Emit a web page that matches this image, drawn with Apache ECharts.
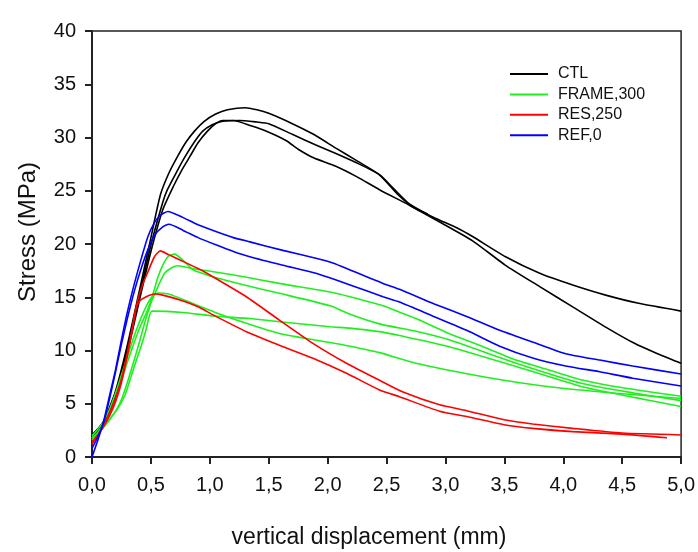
<!DOCTYPE html>
<html><head><meta charset="utf-8">
<script src="https://cdn.jsdelivr.net/npm/echarts@6/dist/echarts.min.js"></script>
<style>html,body{margin:0;padding:0;background:#fff}#c{width:698px;height:552px}</style>
</head><body><div id="c"></div>
<script>
// ---- data (x = vertical displacement in mm, y = stress in MPa) ----
const legendNames = ['CTL', 'FRAME,300', 'RES,250', 'REF,0'];

const ctl1 = [[0,2.0],[0.1,3.4],[0.2,6.2],[0.3,10.5],[0.4,15.5],[0.5,20.6],[0.58,24.6],[0.65,26.6],[0.73,28.3],[0.8,29.6],[0.87,30.6],[0.95,31.5],[1.05,32.2],[1.15,32.6],[1.3,32.8],[1.4,32.6],[1.5,32.27],[1.7,31.3],[1.88,30.3],[2.07,29.0],[2.25,27.8],[2.44,26.5],[2.6,24.6],[2.72,23.5],[2.92,22.4],[3.1,21.5],[3.23,20.7],[3.51,18.8],[3.8,17.25],[4.08,16.15],[4.36,15.2],[4.64,14.43],[5.0,13.7]];
const ctl2 = [[0,1.9],[0.1,3.0],[0.2,5.6],[0.3,9.8],[0.4,14.6],[0.5,19.3],[0.6,23.2],[0.69,25.4],[0.76,26.9],[0.83,28.2],[0.9,29.5],[0.98,30.6],[1.05,31.3],[1.11,31.6],[1.2,31.6],[1.35,31.1],[1.5,30.5],[1.65,29.7],[1.75,28.9],[1.88,28.1],[2.07,27.3],[2.25,26.3],[2.44,25.1],[2.69,23.66],[2.92,22.25],[3.23,20.3],[3.51,18.0],[3.8,16.0],[4.08,14.1],[4.36,12.2],[4.6,10.7],[4.8,9.7],[5.0,8.8]];
const ctl3 = [[0,2.1],[0.1,3.2],[0.2,5.9],[0.3,10.1],[0.4,15.0],[0.5,19.9],[0.6,23.9],[0.64,25.1],[0.72,26.8],[0.79,28.2],[0.87,29.6],[0.94,30.6],[1.02,31.2],[1.1,31.5],[1.25,31.6],[1.4,31.45],[1.5,31.3],[1.7,30.3],[1.9,29.3],[2.07,28.5],[2.25,27.6],[2.44,26.5],[2.56,25.2],[2.69,23.8],[2.85,22.8]];

const frame1 = [[0,1.8],[0.05,2.3],[0.1,3.0],[0.15,4.0],[0.2,5.4],[0.25,7.2],[0.3,8.9],[0.35,10.5],[0.4,12.0],[0.475,13.9],[0.52,15.4],[0.56,16.9],[0.6,18.0],[0.644,18.8],[0.7,19.05],[0.78,18.4],[0.86,17.56],[0.95,17.2],[1.03,16.9],[1.31,16.1],[1.59,15.37],[2.02,14.2],[2.19,13.4],[2.44,12.5],[2.75,11.8],[3.03,11.0],[3.6,8.8],[4.16,6.9],[4.6,6.0],[5.0,5.29]];
const frame2 = [[0,1.6],[0.05,2.2],[0.1,2.8],[0.15,3.5],[0.2,4.3],[0.25,5.4],[0.3,7.0],[0.35,8.8],[0.4,10.7],[0.45,12.7],[0.5,14.45],[0.56,16.0],[0.616,17.25],[0.68,17.8],[0.73,17.96],[0.85,17.7],[1.03,17.4],[1.3,16.9],[1.59,16.3],[2.02,15.5],[2.19,15.05],[2.47,14.2],[2.61,13.6],[2.75,13.0],[3.03,11.6],[3.32,10.36],[3.6,9.1],[3.88,8.17],[4.16,7.23],[4.45,6.6],[5.0,5.7]];
const frame3 = [[0,2.0],[0.05,2.6],[0.1,3.4],[0.15,4.5],[0.2,6.0],[0.25,7.7],[0.3,9.4],[0.35,11.1],[0.4,12.6],[0.45,13.9],[0.5,14.9],[0.56,15.4],[0.65,15.3],[0.746,14.9],[1.03,13.65],[1.31,12.55],[1.59,11.6],[2.02,10.75],[2.19,10.4],[2.44,9.8],[2.75,8.8],[3.32,7.54],[3.88,6.6],[4.45,5.98],[5.0,5.5]];
const frame4 = [[0,1.8],[0.05,2.3],[0.1,3.0],[0.15,3.6],[0.21,4.4],[0.28,5.8],[0.33,7.5],[0.38,9.2],[0.42,10.5],[0.46,12.0],[0.51,13.7],[0.77,13.57],[1.03,13.24],[1.34,13.0],[1.59,12.7],[2.02,12.23],[2.19,12.1],[2.44,11.77],[2.61,11.4],[3.03,10.36],[3.6,8.5],[4.16,6.6],[4.6,5.6],[5.0,4.75]];

const res1 = [[0,1.2],[0.05,2.0],[0.1,3.0],[0.15,4.2],[0.2,5.5],[0.25,7.3],[0.3,9.8],[0.34,12.0],[0.39,14.8],[0.43,16.2],[0.475,17.4],[0.53,18.8],[0.58,19.35],[0.65,19.0],[0.746,18.5],[0.9,17.7],[1.03,16.9],[1.31,15.05],[1.59,12.86],[1.875,10.67],[2.16,8.8],[2.44,7.2],[2.64,6.1],[2.95,4.9],[3.18,4.35],[3.51,3.47],[3.74,3.1],[4.08,2.69],[4.5,2.25],[5.0,2.07]];
const res2 = [[0,1.4],[0.05,2.1],[0.1,2.9],[0.15,3.9],[0.2,5.2],[0.25,7.0],[0.3,9.5],[0.34,11.8],[0.37,13.8],[0.4,14.6],[0.46,15.05],[0.534,15.3],[0.6,15.2],[0.746,14.74],[0.9,14.1],[1.03,13.33],[1.31,11.77],[1.59,10.5],[1.875,9.27],[2.16,7.86],[2.44,6.3],[2.61,5.66],[2.95,4.3],[3.18,3.8],[3.51,3.0],[3.74,2.69],[4.08,2.38],[4.5,2.15],[4.88,1.81]];

const ref1 = [[0,0],[0.05,1.6],[0.1,3.4],[0.15,5.8],[0.2,8.2],[0.25,11.0],[0.3,13.6],[0.36,16.3],[0.42,18.7],[0.475,20.7],[0.53,22.0],[0.58,22.7],[0.644,23.05],[0.77,22.5],[0.9,21.8],[1.057,21.15],[1.2,20.6],[1.34,20.2],[1.62,19.4],[1.9,18.66],[2.05,18.2],[2.19,17.56],[2.47,16.3],[2.61,15.75],[2.9,14.4],[3.18,13.2],[3.46,11.9],[3.74,10.8],[4.02,9.7],[4.31,9.1],[4.59,8.54],[5.0,7.8]];
const ref2 = [[0,0.8],[0.05,1.9],[0.1,3.3],[0.15,5.5],[0.2,8.0],[0.25,10.6],[0.3,13.0],[0.36,15.6],[0.42,17.8],[0.475,19.5],[0.53,20.8],[0.6,21.6],[0.653,21.85],[0.77,21.3],[0.9,20.6],[1.057,19.9],[1.2,19.3],[1.34,18.8],[1.62,18.0],[1.9,17.25],[2.19,16.15],[2.47,15.05],[2.61,14.55],[2.9,13.2],[3.18,11.9],[3.46,10.4],[3.74,9.3],[4.02,8.55],[4.31,8.0],[4.59,7.4],[5.0,6.67]];

const groups = [
  {name: 'CTL', color: '#000000', curves: [ctl1, ctl2, ctl3]},
  {name: 'FRAME,300', color: '#1ef01e', curves: [frame1, frame2, frame3, frame4]},
  {name: 'RES,250', color: '#ff0000', curves: [res1, res2]},
  {name: 'REF,0', color: '#0000ff', curves: [ref1, ref2]}
];

const FONT = 'Liberation Sans, Arial, sans-serif';
const series = [];
groups.forEach(g => g.curves.forEach(c => series.push({
  name: g.name, type: 'line', data: c, symbol: 'none', showSymbol: false,
  smooth: 0.2, color: g.color,
  lineStyle: {color: g.color, width: 1.6}, emphasis: {disabled: true}, animation: false
})));

const chart = echarts.init(document.getElementById('c'));
chart.setOption({
  backgroundColor: '#ffffff',
  animation: false,
  grid: {left: 92, right: 16, top: 31, bottom: 95, show: true, borderColor: '#222', borderWidth: 1.5, backgroundColor: 'transparent'},
  legend: {
    data: legendNames, orient: 'vertical', left: 510, top: 65, padding: 0,
    icon: 'rect', itemWidth: 38, itemHeight: 2, itemGap: 2.4,
    textStyle: {fontFamily: FONT, fontSize: 16, lineHeight: 18, color: '#111', padding: [0, 0, 0, 5]}
  },
  xAxis: {
    type: 'value', min: 0, max: 5, interval: 0.5,
    axisLine: {show: true, onZero: false, lineStyle: {color: '#222', width: 2}},
    axisTick: {show: true, length: 7, lineStyle: {color: '#222', width: 2}},
    splitLine: {show: false},
    axisLabel: {margin: 18, fontFamily: FONT, fontSize: 20, color: '#111', formatter: v => v.toFixed(1).replace('.', ',')}
  },
  yAxis: {
    type: 'value', min: 0, max: 40, interval: 5,
    axisLine: {show: true, onZero: false, lineStyle: {color: '#222', width: 2}},
    axisTick: {show: true, length: 7, lineStyle: {color: '#222', width: 2}},
    splitLine: {show: false},
    axisLabel: {margin: 16, fontFamily: FONT, fontSize: 20, color: '#111'}
  },
  graphic: [
    {type: 'text', x: 28, y: 232, rotation: Math.PI / 2,
     style: {text: 'Stress (MPa)', fontFamily: FONT, fontSize: 24, fill: '#111', textAlign: 'center', textVerticalAlign: 'middle'}},
    {type: 'text', x: 369, y: 538,
     style: {text: 'vertical displacement (mm)', fontFamily: FONT, fontSize: 23, fill: '#111', textAlign: 'center', textVerticalAlign: 'middle'}}
  ],
  series: series
});
</script></body></html>
